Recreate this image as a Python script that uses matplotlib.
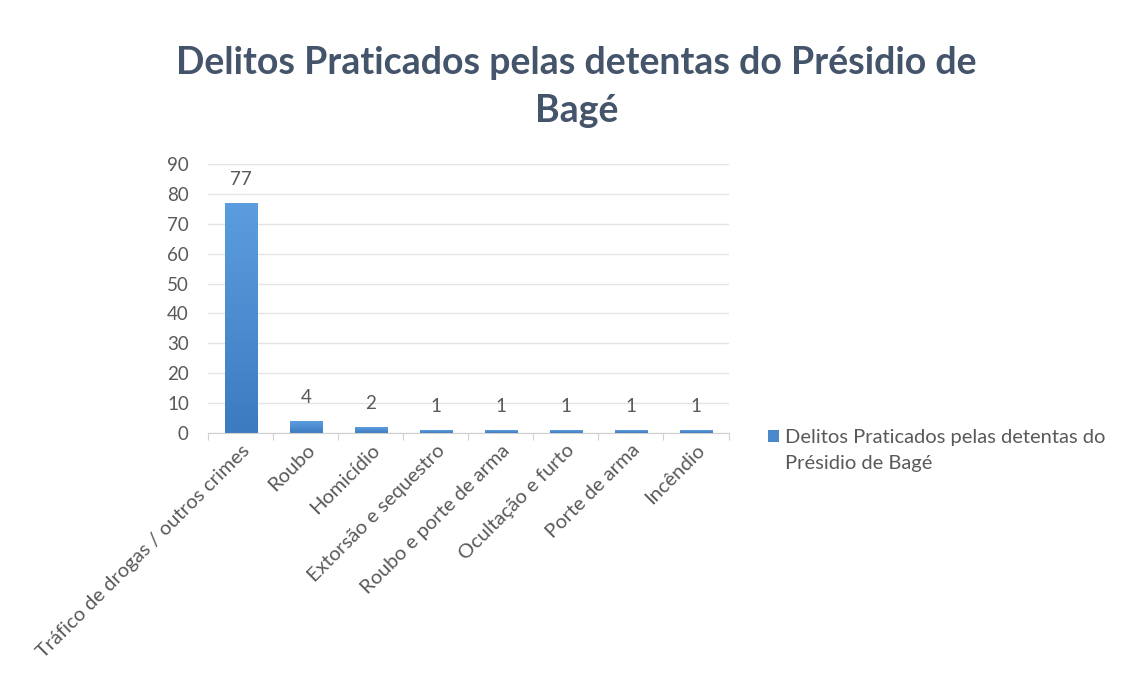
import numpy as np
import matplotlib.pyplot as plt
from matplotlib.colors import LinearSegmentedColormap

plt.rcParams['font.family'] = ['Lato', 'DejaVu Sans']

delitos = ['Tráfico de drogas / outros crimes', 'Roubo', 'Homicídio',
           'Extorsão e sequestro', 'Roubo e porte de arma',
           'Ocultação e furto', 'Porte de arma', 'Incêndio']
qtd = [77, 4, 2, 1, 1, 1, 1, 1]
yticks = [0, 10, 20, 30, 40, 50, 60, 70, 80, 90]
serie = ['Delitos Praticados pelas detentas do', 'Présidio de Bagé']

fig = plt.figure(figsize=(11.26, 6.8), dpi=100)
ax = fig.add_axes([0.185, 0.363, 0.462, 0.396])

x = np.arange(len(delitos))
bars = ax.bar(x, qtd, width=0.5, color='#4A88CC', label=serie[0])

# gradiente vertical em cada barra (mais claro em cima)
grad = LinearSegmentedColormap.from_list('azul', ['#3C7BC0', '#5C9DDF'])
for b in bars:
    bx, by = b.get_x(), b.get_y()
    w, h = b.get_width(), b.get_height()
    im = ax.imshow(np.linspace(0, 1, 64).reshape(-1, 1), cmap=grad, origin='lower',
                   extent=[bx, bx + w, by, by + h], aspect='auto', zorder=2)
    im.set_clip_path(b)

for xi, v in zip(x, qtd):
    ax.text(xi, v + 5, str(v), ha='center', va='bottom', fontsize=13.5, color='#595959')

ax.set_xlim(-0.5, len(delitos) - 0.5)
ax.set_ylim(0, 90)
ax.set_yticks(yticks)
ax.grid(axis='y', color='#E4E4E4', linewidth=1)
ax.set_axisbelow(True)
for s in ['top', 'right', 'left']:
    ax.spines[s].set_visible(False)
ax.spines['bottom'].set_color('#D0D0D0')
ax.tick_params(axis='y', length=0, labelsize=13.5, labelcolor='#595959', pad=14)

# ticks sit between categories, labels under the bars
ax.set_xticks(np.arange(len(delitos) + 1) - 0.5)
ax.set_xticklabels([])
ax.tick_params(axis='x', which='major', length=5, color='#D0D0D0')
ax.set_xticks(x, minor=True)
ax.set_xticklabels(delitos, minor=True, rotation=45, ha='right',
                   rotation_mode='anchor', fontsize=14.5, color='#595959')
ax.tick_params(axis='x', which='minor', length=0, pad=6)

fig.text(0.512, 0.872, 'Delitos Praticados pelas detentas do Présidio de\nBagé',
         ha='center', va='center', fontsize=27, fontweight='bold',
         color='#44546A', linespacing=1.5)

leg = fig.legend(handles=[bars], loc='center left', bbox_to_anchor=(0.666, 0.357),
                 frameon=False, fontsize=14.5, labelcolor='#595959',
                 handlelength=0.55, handleheight=0.55, handletextpad=0.3)

# segunda linha da legenda, alinhada ao texto (marcador fica na primeira linha)
fig.canvas.draw()
bb = leg.get_texts()[0].get_window_extent().transformed(fig.transFigure.inverted())
fig.text(bb.x0, bb.y0 - 0.038, serie[1], ha='left', va='bottom',
         fontsize=14.5, color='#595959')

fig.savefig('out.png', dpi=100)
